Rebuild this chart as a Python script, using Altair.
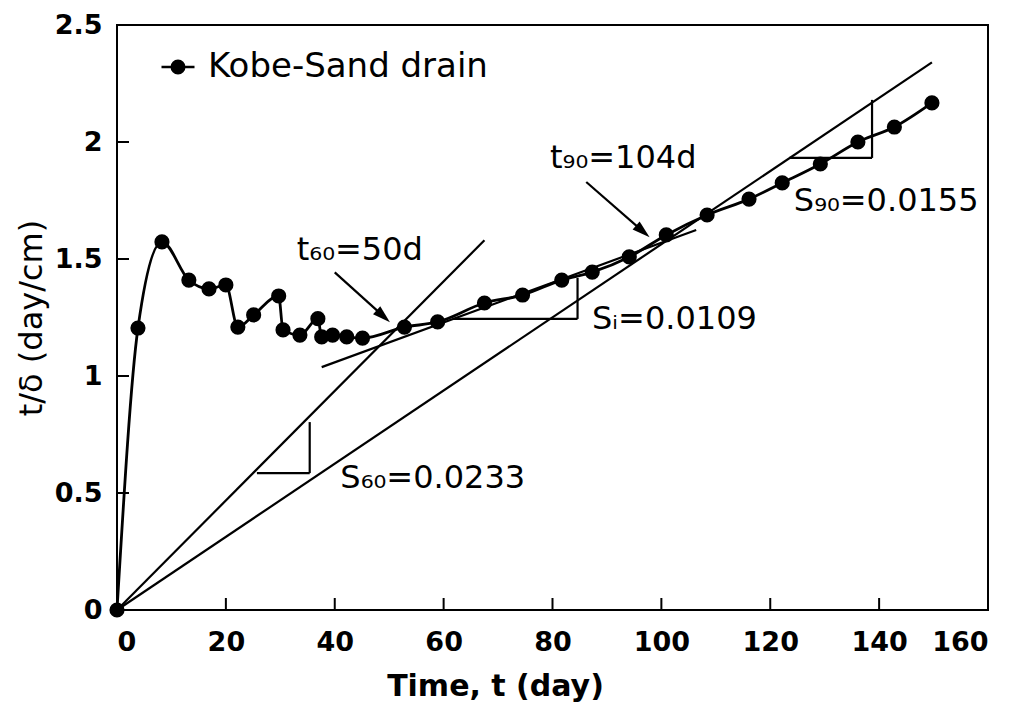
import math
import altair as alt
import pandas as pd

# ---------------- data ----------------
t_days = [0, 3.85, 8.26, 13.2, 16.9, 20.0, 22.2, 25.1, 29.7, 30.5, 33.6, 36.9, 37.6,
          39.6, 42.2, 45.1, 52.8, 58.9, 67.5, 74.5, 81.7, 87.3, 94.1, 100.9, 108.4,
          116.1, 122.2, 129.2, 136.1, 142.8, 149.7]
t_over_delta = [0, 1.205, 1.573, 1.41, 1.372, 1.389, 1.209, 1.261, 1.342, 1.197, 1.175,
                1.245, 1.167, 1.175, 1.167, 1.162, 1.209, 1.231, 1.312, 1.346, 1.41,
                1.444, 1.509, 1.603, 1.688, 1.756, 1.825, 1.906, 2.0, 2.064, 2.167]
series_name = "Kobe-Sand drain"

# straight construction lines (slopes + slope triangles)
seg_t1 = [0, 0, 37.6, 25.7, 35.4, 61.7, 84.6, 123.5, 138.7]
seg_v1 = [0, 0, 1.038, 0.585, 0.585, 1.244, 1.244, 1.932, 1.932]
seg_t2 = [67.5, 149.7, 106.4, 35.4, 35.4, 84.6, 84.6, 138.7, 138.7]
seg_v2 = [1.58, 2.34, 1.624, 0.585, 0.803, 1.244, 1.419, 1.932, 2.18]

# arrows (start -> tip)
arr_t1 = [40.0, 86.2]
arr_v1 = [1.443, 1.829]
arr_t2 = [50.1, 97.8]
arr_v2 = [1.231, 1.594]

# annotation texts
ann_label = ["t₆₀=50d", "t₉₀=104d", "Sᵢ=0.0109", "S₉₀=0.0155", "S₆₀=0.0233"]
ann_t = [44.6, 93.0, 102.4, 141.3, 58.0]
ann_v = [1.538, 1.932, 1.244, 1.748, 0.564]

x_ticks = [0, 20, 40, 60, 80, 100, 120, 140, 160]
y_ticks = [0, 0.5, 1, 1.5, 2, 2.5]
x_inner_ticks = [20, 40, 60, 80, 100, 120, 140]
y_inner_ticks = [0.5, 1, 1.5, 2]

# ---------------- layout ----------------
W, H = 871, 585
X_MAX, Y_MAX = 160, 2.5
px_t = W / X_MAX
px_v = H / Y_MAX

xs = alt.Scale(domain=[0, X_MAX], nice=False, zero=True)
ys = alt.Scale(domain=[0, Y_MAX], nice=False, zero=True)

x_axis = alt.Axis(values=x_ticks, title="Time, t (day)", labelExpr="datum.value",
                  labelPadding=19, titleX=378, titleY=85, titleAlign="center",
                  titleBaseline="alphabetic", titleFont="DejaVu Sans",
                  titleFontSize=30, titleFontWeight="bold")
y_axis = alt.Axis(values=y_ticks, title="t/δ (day/cm)", labelExpr="datum.value",
                  labelPadding=15, titleX=-86, titleY=H / 2, titleAngle=270,
                  titleAlign="center", titleBaseline="middle", titleFont="DejaVu Sans",
                  titleFontSize=32, titleFontWeight="normal")


def X(f):
    return alt.X(f, type="quantitative", scale=xs, axis=x_axis)


def Y(f):
    return alt.Y(f, type="quantitative", scale=ys, axis=y_axis)


obs = pd.DataFrame({"t": t_days, "v": t_over_delta, "series": [series_name] * len(t_days)})
segs = pd.DataFrame({"t1": seg_t1, "v1": seg_v1, "t2": seg_t2, "v2": seg_v2})
anns = pd.DataFrame({"t": ann_t, "v": ann_v, "label": ann_label})

# arrowheads
HEAD = 8.66
rows = []
for a, b, c, d in zip(arr_t1, arr_v1, arr_t2, arr_v2):
    dx = (c - a) * px_t
    dy = (b - d) * px_v
    L = math.hypot(dx, dy)
    ux, uy = dx / L, dy / L
    ct = c - ux * HEAD / px_t
    cv = d + uy * HEAD / px_v
    ang = math.degrees(math.atan2(dx, -dy)) % 360
    rows.append({"t1": a, "v1": b, "tc": ct, "vc": cv, "ang": ang})
arrows = pd.DataFrame(rows)

xt = pd.DataFrame({"t": x_inner_ticks})
yt = pd.DataFrame({"v": y_inner_ticks})

line = alt.Chart(obs).mark_line(interpolate="monotone", color="black", strokeWidth=2.8).encode(
    x=X("t"), y=Y("v"))

pts = alt.Chart(obs).mark_circle(size=230, opacity=1).encode(
    x=X("t"), y=Y("v"),
    color=alt.Color("series:N", scale=alt.Scale(range=["black"]),
                    legend=alt.Legend(
                        title=None, orient="none", legendX=43, legendY=24, padding=0,
                        symbolType="M-1,0L1,0M0.38,0A0.38,0.38,0,1,1,-0.38,0A0.38,0.38,0,1,1,0.38,0Z",
                        symbolSize=1089, symbolStrokeColor="black", symbolStrokeWidth=2.5,
                        symbolFillColor="black", symbolOpacity=1,
                        labelFont="DejaVu Sans", labelFontSize=34, labelColor="black",
                        labelOffset=12, labelLimit=0)))

seg_layer = alt.Chart(segs).mark_rule(color="black", strokeWidth=2.2).encode(
    x=X("t1"), y=Y("v1"), x2="t2:Q", y2="v2:Q")

arrow_shaft = alt.Chart(arrows).mark_rule(color="black", strokeWidth=2.2).encode(
    x=X("t1"), y=Y("v1"), x2="tc:Q", y2="vc:Q")
arrow_head = alt.Chart(arrows).mark_point(
    shape="M0,-1L0.6,1L-0.6,1Z", filled=True, size=320, color="black", opacity=1).encode(
    x=X("tc"), y=Y("vc"), angle=alt.Angle("ang:Q", scale=None))

xtick_layer = alt.Chart(xt).mark_rule(color="black", strokeWidth=2).encode(
    x=X("t"), y=alt.value(H), y2=alt.value(H - 12))
ytick_layer = alt.Chart(yt).mark_rule(color="black", strokeWidth=2).encode(
    y=Y("v"), x=alt.value(0), x2=alt.value(12))

text_layer = alt.Chart(anns).mark_text(
    font="DejaVu Sans", fontSize=32, color="black", align="center", baseline="middle").encode(
    x=X("t"), y=Y("v"), text="label:N")

chart = alt.layer(
    seg_layer, xtick_layer, ytick_layer, line, pts, arrow_shaft, arrow_head, text_layer
).properties(
    width=W, height=H,
    autosize=alt.AutoSizeParams(type="none"),
    padding={"left": 109, "top": 17, "right": 20, "bottom": 98},
    background="white",
).configure_view(
    stroke="black", strokeWidth=2
).configure_axis(
    grid=False, ticks=False, tickSize=0, domain=False,
    labelFont="DejaVu Sans", labelFontSize=27, labelFontWeight="bold", labelColor="black",
    titleColor="black",
)

chart.save("out.html", embed_options={"renderer": "svg", "actions": False})
